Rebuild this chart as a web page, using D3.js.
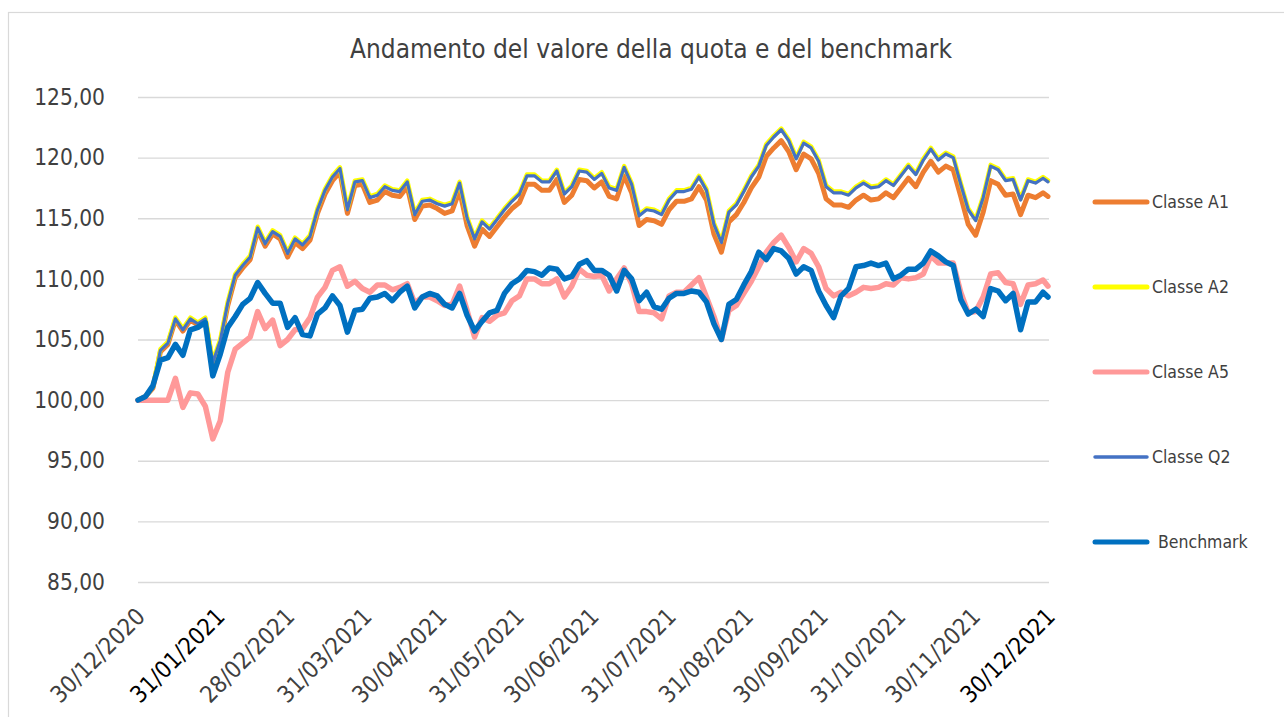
<!DOCTYPE html>
<html>
<head>
<meta charset="utf-8">
<script src="https://cdn.jsdelivr.net/npm/d3@7"></script>
<style>
  body { margin: 0; background: #fff; }
  svg text { font-family: "DejaVu Sans Condensed", "DejaVu Sans", sans-serif; font-stretch: condensed; }
</style>
</head>
<body>
<svg id="chart" width="1284" height="717"></svg>
<script>
// dates every ~3 days
var dates = [
  "2020-12-30","2021-01-02","2021-01-05","2021-01-08","2021-01-11","2021-01-14","2021-01-17","2021-01-20","2021-01-23","2021-01-26",
  "2021-01-29","2021-02-01","2021-02-04","2021-02-07","2021-02-10","2021-02-13","2021-02-16","2021-02-19","2021-02-22","2021-02-25",
  "2021-02-28","2021-03-03","2021-03-06","2021-03-09","2021-03-12","2021-03-15","2021-03-18","2021-03-21","2021-03-24","2021-03-27",
  "2021-03-30","2021-04-02","2021-04-05","2021-04-08","2021-04-11","2021-04-14","2021-04-17","2021-04-20","2021-04-23","2021-04-26",
  "2021-04-29","2021-05-02","2021-05-05","2021-05-08","2021-05-11","2021-05-14","2021-05-17","2021-05-20","2021-05-23","2021-05-26",
  "2021-05-29","2021-06-01","2021-06-04","2021-06-07","2021-06-10","2021-06-13","2021-06-16","2021-06-19","2021-06-22","2021-06-25",
  "2021-06-28","2021-07-01","2021-07-04","2021-07-07","2021-07-10","2021-07-13","2021-07-16","2021-07-19","2021-07-22","2021-07-25",
  "2021-07-28","2021-07-31","2021-08-03","2021-08-06","2021-08-09","2021-08-12","2021-08-15","2021-08-18","2021-08-21","2021-08-24",
  "2021-08-27","2021-08-30","2021-09-02","2021-09-05","2021-09-08","2021-09-11","2021-09-14","2021-09-17","2021-09-20","2021-09-23",
  "2021-09-26","2021-09-29","2021-10-02","2021-10-05","2021-10-08","2021-10-11","2021-10-14","2021-10-17","2021-10-20","2021-10-23",
  "2021-10-26","2021-10-29","2021-11-01","2021-11-04","2021-11-07","2021-11-10","2021-11-13","2021-11-16","2021-11-19","2021-11-22",
  "2021-11-25","2021-11-28","2021-12-01","2021-12-04","2021-12-07","2021-12-10","2021-12-13","2021-12-16","2021-12-19","2021-12-22",
  "2021-12-25","2021-12-28","2021-12-30"
];

var classeA1 = [
  100.0,100.3,101.0,104.0,104.6,106.6,105.7,106.6,106.2,106.6,
  102.9,104.7,107.8,110.1,110.9,111.6,114.0,112.7,113.7,113.3,
  111.8,113.0,112.5,113.2,115.4,117.0,118.1,118.8,115.4,117.7,
  117.8,116.3,116.5,117.2,116.9,116.8,117.6,114.9,116.0,116.1,
  115.8,115.4,115.6,117.3,114.4,112.7,114.1,113.5,114.3,115.1,
  115.8,116.3,117.8,117.8,117.3,117.3,118.2,116.3,116.9,118.2,
  118.1,117.5,118.0,116.8,116.6,118.5,117.1,114.4,114.9,114.8,
  114.5,115.7,116.4,116.4,116.6,117.6,116.5,113.7,112.2,114.7,
  115.3,116.3,117.5,118.4,120.1,120.8,121.4,120.5,119.0,120.3,
  119.9,118.7,116.6,116.1,116.1,115.9,116.5,116.9,116.5,116.6,
  117.1,116.7,117.5,118.3,117.6,118.8,119.7,118.8,119.3,119.0,
  116.8,114.5,113.6,115.5,118.1,117.8,116.9,117.0,115.3,116.9,
  116.7,117.1,116.8
];

var classeA2 = [
  100.0,100.3,101.1,104.2,104.8,106.8,105.9,106.8,106.4,106.8,
  103.2,105.0,108.1,110.4,111.2,111.9,114.3,113.0,114.0,113.6,
  112.2,113.4,112.9,113.6,115.8,117.4,118.5,119.2,115.8,118.1,
  118.2,116.8,117.0,117.7,117.4,117.3,118.1,115.4,116.5,116.6,
  116.3,116.1,116.3,118.0,115.1,113.4,114.8,114.2,115.0,115.8,
  116.5,117.1,118.6,118.6,118.1,118.1,119.0,117.1,117.7,119.0,
  118.9,118.3,118.8,117.6,117.4,119.3,117.9,115.3,115.8,115.7,
  115.4,116.6,117.3,117.3,117.5,118.5,117.4,114.6,113.1,115.6,
  116.2,117.3,118.5,119.4,121.1,121.8,122.4,121.5,120.0,121.3,
  120.9,119.8,117.7,117.2,117.2,117.0,117.6,118.0,117.6,117.7,
  118.2,117.8,118.6,119.4,118.7,119.9,120.8,119.9,120.4,120.1,
  117.9,115.8,114.9,116.8,119.4,119.1,118.2,118.3,116.6,118.2,
  118.0,118.4,118.1
];

var classeA5 = [
  100.0,100.0,100.0,100.0,100.0,101.8,99.4,100.6,100.5,99.5,
  96.8,98.3,102.3,104.2,104.7,105.2,107.3,105.9,106.6,104.5,
  105.0,105.8,105.9,106.8,108.5,109.3,110.7,111.0,109.4,109.8,
  109.2,108.9,109.5,109.5,109.1,109.3,109.6,108.0,108.5,108.5,
  108.2,107.8,107.9,109.4,107.4,105.2,106.8,106.5,107.0,107.2,
  108.2,108.6,110.0,110.0,109.6,109.6,110.0,108.5,109.4,110.8,
  110.3,110.2,110.3,109.0,110.0,110.9,109.6,107.3,107.3,107.2,
  106.7,108.6,108.9,108.9,109.5,110.1,108.5,106.9,105.0,107.4,
  107.8,108.8,109.8,111.0,112.2,113.0,113.6,112.6,111.4,112.5,
  112.1,111.0,109.2,108.6,108.9,108.6,108.9,109.3,109.2,109.3,
  109.6,109.5,110.1,110.0,110.1,110.4,111.9,111.3,111.3,111.3,
  108.9,107.2,107.3,108.5,110.4,110.5,109.7,109.6,107.9,109.5,
  109.6,109.9,109.4
];

var classeQ2 = [
  100.0,100.3,101.0,104.1,104.7,106.7,105.8,106.7,106.3,106.7,
  103.1,104.9,108.0,110.3,111.1,111.8,114.2,112.9,113.9,113.5,
  112.1,113.3,112.8,113.5,115.7,117.3,118.4,119.1,115.7,118.0,
  118.1,116.7,116.9,117.6,117.3,117.2,118.0,115.3,116.4,116.5,
  116.2,116.0,116.2,117.9,115.0,113.3,114.7,114.1,114.9,115.7,
  116.4,117.0,118.5,118.5,118.0,118.0,118.9,117.0,117.6,118.9,
  118.8,118.2,118.7,117.5,117.3,119.2,117.8,115.2,115.7,115.6,
  115.3,116.5,117.2,117.2,117.4,118.4,117.3,114.5,113.0,115.5,
  116.1,117.2,118.4,119.3,121.0,121.7,122.3,121.4,119.9,121.2,
  120.8,119.7,117.6,117.1,117.1,116.9,117.5,117.9,117.5,117.6,
  118.1,117.7,118.5,119.3,118.6,119.8,120.7,119.8,120.3,120.0,
  117.8,115.7,114.8,116.7,119.3,119.0,118.1,118.2,116.5,118.1,
  117.9,118.3,118.0
];

var benchmark = [
  100.0,100.3,101.2,103.3,103.5,104.6,103.7,105.8,106.0,106.4,
  102.0,103.8,106.0,106.9,107.9,108.4,109.7,108.8,108.0,108.0,
  106.0,106.8,105.4,105.3,107.1,107.6,108.6,107.8,105.6,107.4,
  107.5,108.4,108.5,108.8,108.2,108.9,109.4,107.6,108.5,108.8,
  108.6,107.9,107.6,108.8,107.0,105.7,106.5,107.2,107.4,108.8,
  109.6,110.0,110.7,110.6,110.3,110.9,110.8,110.0,110.2,111.2,
  111.5,110.7,110.7,110.3,109.0,110.7,110.0,108.2,108.9,107.7,
  107.5,108.4,108.8,108.8,109.0,108.9,108.1,106.3,105.0,107.9,
  108.3,109.5,110.6,112.2,111.6,112.5,112.3,111.7,110.4,111.0,
  110.7,109.0,107.8,106.8,108.6,109.2,111.0,111.1,111.3,111.1,
  111.3,110.0,110.3,110.8,110.8,111.3,112.3,111.9,111.4,111.1,
  108.3,107.1,107.5,106.9,109.2,109.0,108.2,108.8,105.8,108.1,
  108.1,108.9,108.5
];

var tickDates = ["2020-12-30","2021-01-31","2021-02-28","2021-03-31","2021-04-30","2021-05-31",
  "2021-06-30","2021-07-31","2021-08-31","2021-09-30","2021-10-31","2021-11-30","2021-12-30"];
var darkTicks = ["2021-01-31","2021-12-30"];
var yTicks = [85, 90, 95, 100, 105, 110, 115, 120, 125];

var seriesNames = ["Classe A1", "Classe A2", "Classe A5", "Classe Q2", "Benchmark"];
var seriesColors = ["#ED7D31", "#FFFF00", "#FF9999", "#4472C4", "#0070C0"];
var seriesWidths = [5, 4.5, 5.5, 3.2, 5.5];

var parse = d3.timeParse("%Y-%m-%d");
var itLocale = d3.formatLocale({decimal: ",", thousands: ".", grouping: [3], currency: ["€", ""]});
var fmt = itLocale.format(".2f");

var svg = d3.select("#chart");
var W = 1284, H = 717;
var plotLeft = 138, plotRight = 1048, plotTop = 97, plotBottom = 582;

svg.append("rect").attr("width", W).attr("height", H).attr("fill", "#fff");
// chart area border (runs off the page on the right/bottom)
svg.append("rect").attr("x", 8.5).attr("y", 12.5).attr("width", 1300).attr("height", 720)
  .attr("fill", "none").attr("stroke", "#d9d9d9").attr("stroke-width", 1.2);

var x = d3.scaleTime().domain([parse("2020-12-30"), parse("2021-12-30")]).range([plotLeft, plotRight]);
var y = d3.scaleLinear().domain([85, 125]).range([plotBottom, plotTop]);

svg.append("text")
  .attr("x", 651).attr("y", 58)
  .attr("text-anchor", "middle")
  .attr("font-size", 26)
  .attr("fill", "#404040")
  .text("Andamento del valore della quota e del benchmark");

var yAxis = svg.append("g")
  .attr("transform", "translate(" + plotLeft + ",0)")
  .call(d3.axisLeft(y).tickValues(yTicks).tickSize(-(plotRight - plotLeft + 1)).tickPadding(33).tickFormat(fmt));
yAxis.select(".domain").remove();
yAxis.selectAll(".tick line").attr("stroke", "#d9d9d9").attr("stroke-width", 1.4);
yAxis.selectAll(".tick text").attr("font-size", 22.5).attr("fill", "#404040");

var xAxis = svg.append("g")
  .attr("transform", "translate(0," + plotBottom + ")")
  .call(d3.axisBottom(x).tickValues(tickDates.map(parse)).tickSize(0).tickFormat(d3.timeFormat("%d/%m/%Y")));
xAxis.select(".domain").remove();
xAxis.selectAll(".tick text")
  .attr("font-size", 23.5)
  .attr("text-anchor", "end")
  .attr("dy", 0)
  .attr("transform", "translate(8,36) rotate(-45)")
  .attr("y", 0)
  .attr("fill", function(d) {
    return darkTicks.indexOf(d3.timeFormat("%Y-%m-%d")(d)) >= 0 ? "#000" : "#404040";
  });

var allSeries = [classeA1, classeA2, classeA5, classeQ2, benchmark];
var line = d3.line()
  .x(function(d) { return x(d.date); })
  .y(function(d) { return y(d.v); });

allSeries.forEach(function(vals, i) {
  var pts = vals.map(function(v, j) { return {date: parse(dates[j]), v: v}; });
  svg.append("path")
    .datum(pts)
    .attr("d", line)
    .attr("fill", "none")
    .attr("stroke", seriesColors[i])
    .attr("stroke-width", seriesWidths[i])
    .attr("stroke-linejoin", "round")
    .attr("stroke-linecap", "round");
});

// legend
var legendY = [202, 287, 372, 457, 542];
var legend = svg.append("g");
seriesNames.forEach(function(name, i) {
  legend.append("line")
    .attr("x1", 1095).attr("x2", 1147)
    .attr("y1", legendY[i]).attr("y2", legendY[i])
    .attr("stroke", seriesColors[i])
    .attr("stroke-width", i == 3 ? 3.5 : 5)
    .attr("stroke-linecap", "round");
  legend.append("text")
    .attr("x", i == 4 ? 1158 : 1152).attr("y", legendY[i])
    .attr("dy", "0.35em")
    .attr("font-size", 17.5)
    .attr("fill", "#404040")
    .text(name);
});
</script>
</body>
</html>
